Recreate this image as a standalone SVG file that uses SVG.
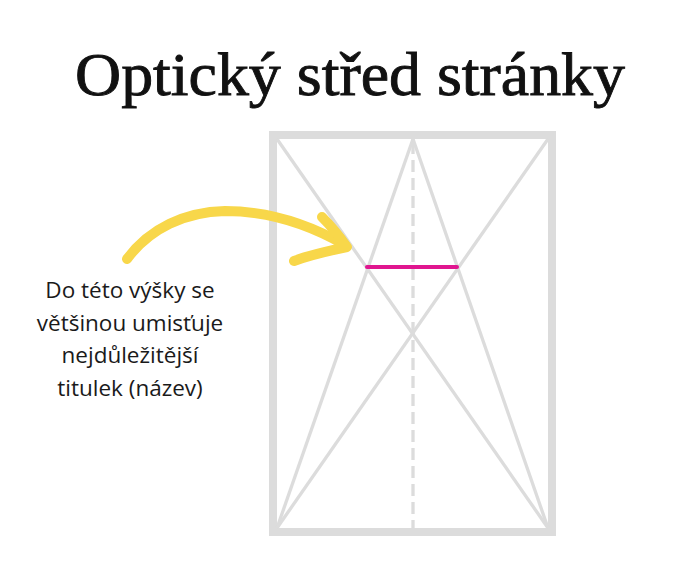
<svg xmlns="http://www.w3.org/2000/svg" width="700" height="587" viewBox="0 0 700 587">
<style>
.title{font-family:"Liberation Serif","DejaVu Serif",serif;font-size:62px;fill:#111;stroke:#111;stroke-width:0.9}
.body{font-family:"Open Sans","Noto Sans",sans-serif;font-size:22.5px;fill:#1a1a1a;text-anchor:middle}
.g{stroke:#dcdcdc;stroke-width:3.3;fill:none}
.arrow{stroke:#f8d74a;fill:none;stroke-linecap:round;stroke-linejoin:round}
</style>
<rect width="700" height="587" fill="#fff"/>
<text class="title" x="75" y="95" textLength="550" lengthAdjust="spacingAndGlyphs">Optický střed stránky</text>
<g id="page">
<rect x="273" y="135" width="279" height="397" fill="none" stroke="#dcdcdc" stroke-width="8"/>
</g>
<g id="connectors">
<line class="g" x1="277" y1="139" x2="548" y2="528"/>
<line class="g" x1="548" y1="139" x2="277" y2="528"/>
<line class="g" x1="413" y1="139" x2="277" y2="528"/>
<line class="g" x1="413" y1="139" x2="548" y2="528"/>
<line class="g" x1="413" y1="142" x2="413" y2="528" stroke-dasharray="12 6"/>
</g>
<g id="center-mark">
<line x1="367" y1="267" x2="457" y2="267" stroke="#e0168f" stroke-width="4" stroke-linecap="round"/>
</g>
<g id="arrow">
<path class="arrow" stroke-width="10" d="M127,259 C150,228 185,212 225,211 C270,211 312,226 345,245"/>
<path class="arrow" stroke-width="10" d="M322,217 C332,227 340,237 347,247 C328,251 310,255 294,261"/>
</g>
<g id="label">
<text class="body" x="130" y="298">Do této výšky se</text>
<text class="body" x="130" y="331">většinou umisťuje</text>
<text class="body" x="130" y="363">nejdůležitější</text>
<text class="body" x="130" y="396">titulek (název)</text>
</g>
</svg>
